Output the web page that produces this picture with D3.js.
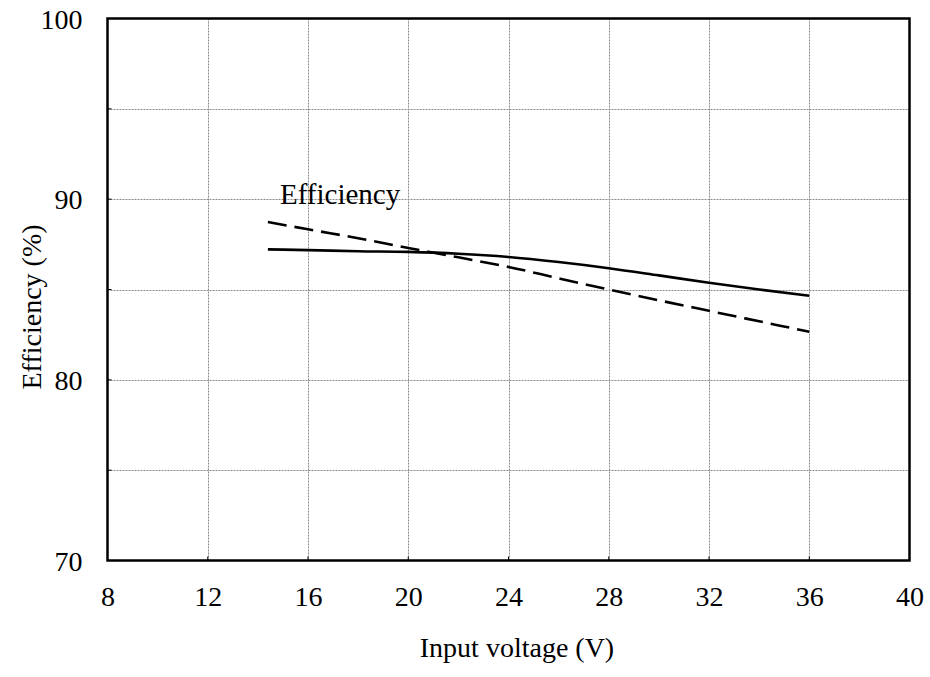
<!DOCTYPE html>
<html><head><meta charset="utf-8">
<script src="https://cdn.jsdelivr.net/npm/d3@7"></script>
<style>body{margin:0;background:#fff}svg{display:block}</style>
</head><body><svg id="c" width="930" height="677"></svg>
<script>
const xTicks = [8, 12, 16, 20, 24, 28, 32, 36, 40];
const yTicks = [70, 80, 90, 100];
const yMinor = [75, 85, 95];
const voltage = [14.4, 16, 18, 20, 22, 24, 26, 28, 30, 32, 34, 36];
const effSolid = [87.22, 87.18, 87.12, 87.08, 86.98, 86.8, 86.52, 86.18, 85.78, 85.37, 85.0, 84.65];
const effDashed = [88.74, 88.33, 87.84, 87.3, 86.78, 86.25, 85.62, 85.0, 84.4, 83.82, 83.24, 82.66];
const annotation = "Efficiency";
const xTitle = "Input voltage (V)";
const yTitle = "Efficiency (%)";

const FONT = "'Liberation Serif', 'Times New Roman', Times, 'DejaVu Serif', serif";
const svg = d3.select("#c");
const L = 107.5, R = 909.5, T = 18.5, B = 560.5;
const x = d3.scaleLinear().domain([8, 40]).range([L, R]);
const y = d3.scaleLinear().domain([70, 100]).range([B, T]);

// grid
const grid = svg.append("g").attr("stroke", "#8a8a8a").attr("stroke-width", 1).attr("stroke-dasharray", "2,1");
grid.selectAll("line.v").data(xTicks.slice(1, -1)).join("line")
  .attr("x1", d => Math.round(x(d)) + 0.5).attr("x2", d => Math.round(x(d)) + 0.5).attr("y1", T).attr("y2", B);
grid.selectAll("line.h").data(yTicks.slice(1, -1).concat(yMinor)).join("line")
  .attr("y1", d => Math.round(y(d)) + 0.5).attr("y2", d => Math.round(y(d)) + 0.5).attr("x1", L).attr("x2", R);

// axes (labels)
const xAxis = d3.axisBottom(x).tickValues(xTicks).tickSize(0).tickPadding(0);
const gx = svg.append("g").attr("transform", `translate(0,${B})`).call(xAxis);
gx.attr("font-family", FONT).attr("font-size", 28);
gx.select(".domain").remove();
gx.selectAll("text").attr("dy", null).attr("y", 45).attr("fill", "#000");

const yAxis = d3.axisLeft(y).tickValues(yTicks).tickSize(0).tickPadding(0);
const gy = svg.append("g").attr("transform", `translate(${L},0)`).call(yAxis);
gy.attr("font-family", FONT).attr("font-size", 28);
gy.select(".domain").remove();
gy.selectAll("text").attr("x", -25).attr("dy", "0.34em").attr("fill", "#000");

// small inward ticks
const tk = svg.append("g").attr("stroke", "#000").attr("stroke-width", 1);
tk.selectAll("line.yt").data(yTicks.concat(yMinor)).join("line")
  .attr("x1", L).attr("x2", L + 4).attr("y1", d => y(d)).attr("y2", d => y(d));
tk.selectAll("line.xt").data(xTicks).join("line")
  .attr("y1", B).attr("y2", B - 4).attr("x1", d => x(d)).attr("x2", d => x(d));

// lines
const line = d3.line().x((d, i) => x(voltage[i])).y(d => y(d)).curve(d3.curveMonotoneX);
svg.append("path").datum(effSolid).attr("d", line).attr("fill", "none").attr("stroke", "#000").attr("stroke-width", 2.6);
svg.append("path").datum(effDashed).attr("d", line).attr("fill", "none").attr("stroke", "#000").attr("stroke-width", 2.6).attr("stroke-dasharray", "19,8");

// frame
svg.append("rect").attr("x", L).attr("y", T).attr("width", R - L).attr("height", B - T)
  .attr("fill", "none").attr("stroke", "#000").attr("stroke-width", 2.5);

const tg = svg.append("g").attr("font-family", FONT).attr("font-size", 28).attr("fill", "#000");
// annotation
tg.append("text").attr("x", 280).attr("y", 204).attr("font-size", 29).text(annotation);
// titles
tg.append("text").attr("x", 517).attr("y", 657).attr("text-anchor", "middle").text(xTitle);
tg.append("text").attr("transform", "translate(41,307) rotate(-90)").attr("text-anchor", "middle").text(yTitle);
</script></body></html>
